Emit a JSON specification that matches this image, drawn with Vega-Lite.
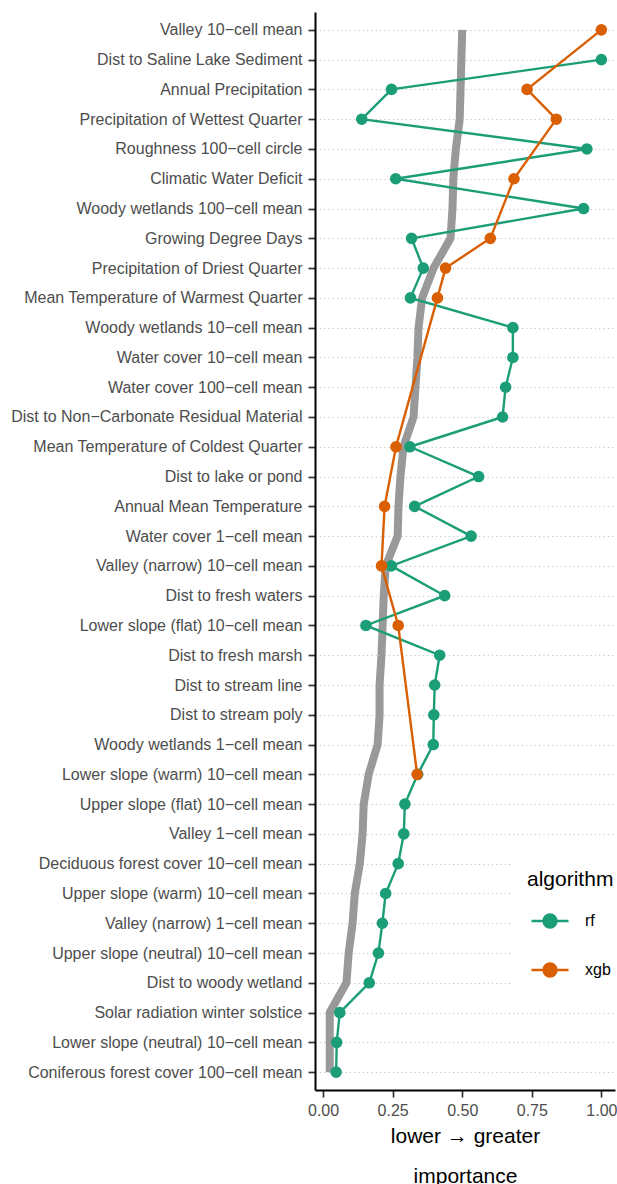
{
  "$schema": "https://vega.github.io/schema/vega-lite/v6.json",
  "width": 300,
  "height": 1078,
  "autosize": {"type": "none"},
  "padding": {"left": 315, "top": 12, "right": 2, "bottom": 94},
  "background": "white",
  "config": {
    "view": {"stroke": null},
    "font": "Liberation Sans",
    "axis": {
      "domainColor": "black",
      "domainWidth": 2,
      "tickColor": "#333333",
      "tickWidth": 1.7,
      "tickSize": 7,
      "labelColor": "#4D4D4D",
      "labelFontSize": 16,
      "labelFont": "Liberation Sans",
      "labelLimit": 0,
      "titleFont": "Liberation Sans",
      "titleColor": "black",
      "titleFontWeight": "normal",
      "titleFontSize": 21
    }
  },
  "datasets": {
    "overall": [
      {"feature": "Valley 10−cell mean", "rank": 1, "importance": 0.500},
      {"feature": "Dist to Saline Lake Sediment", "rank": 2, "importance": 0.497},
      {"feature": "Annual Precipitation", "rank": 3, "importance": 0.494},
      {"feature": "Precipitation of Wettest Quarter", "rank": 4, "importance": 0.491},
      {"feature": "Roughness 100−cell circle", "rank": 5, "importance": 0.477},
      {"feature": "Climatic Water Deficit", "rank": 6, "importance": 0.468},
      {"feature": "Woody wetlands 100−cell mean", "rank": 7, "importance": 0.465},
      {"feature": "Growing Degree Days", "rank": 8, "importance": 0.458},
      {"feature": "Precipitation of Driest Quarter", "rank": 9, "importance": 0.397},
      {"feature": "Mean Temperature of Warmest Quarter", "rank": 10, "importance": 0.356},
      {"feature": "Woody wetlands 10−cell mean", "rank": 11, "importance": 0.343},
      {"feature": "Water cover 10−cell mean", "rank": 12, "importance": 0.339},
      {"feature": "Water cover 100−cell mean", "rank": 13, "importance": 0.332},
      {"feature": "Dist to Non−Carbonate Residual Material", "rank": 14, "importance": 0.325},
      {"feature": "Mean Temperature of Coldest Quarter", "rank": 15, "importance": 0.289},
      {"feature": "Dist to lake or pond", "rank": 16, "importance": 0.278},
      {"feature": "Annual Mean Temperature", "rank": 17, "importance": 0.271},
      {"feature": "Water cover 1−cell mean", "rank": 18, "importance": 0.268},
      {"feature": "Valley (narrow) 10−cell mean", "rank": 19, "importance": 0.225},
      {"feature": "Dist to fresh waters", "rank": 20, "importance": 0.218},
      {"feature": "Lower slope (flat) 10−cell mean", "rank": 21, "importance": 0.214},
      {"feature": "Dist to fresh marsh", "rank": 22, "importance": 0.210},
      {"feature": "Dist to stream line", "rank": 23, "importance": 0.203},
      {"feature": "Dist to stream poly", "rank": 24, "importance": 0.203},
      {"feature": "Woody wetlands 1−cell mean", "rank": 25, "importance": 0.196},
      {"feature": "Lower slope (warm) 10−cell mean", "rank": 26, "importance": 0.164},
      {"feature": "Upper slope (flat) 10−cell mean", "rank": 27, "importance": 0.146},
      {"feature": "Valley 1−cell mean", "rank": 28, "importance": 0.142},
      {"feature": "Deciduous forest cover 10−cell mean", "rank": 29, "importance": 0.132},
      {"feature": "Upper slope (warm) 10−cell mean", "rank": 30, "importance": 0.114},
      {"feature": "Valley (narrow) 1−cell mean", "rank": 31, "importance": 0.106},
      {"feature": "Upper slope (neutral) 10−cell mean", "rank": 32, "importance": 0.092},
      {"feature": "Dist to woody wetland", "rank": 33, "importance": 0.084},
      {"feature": "Solar radiation winter solstice", "rank": 34, "importance": 0.024},
      {"feature": "Lower slope (neutral) 10−cell mean", "rank": 35, "importance": 0.024},
      {"feature": "Coniferous forest cover 100−cell mean", "rank": 36, "importance": 0.024}
    ],
    "imp": [
      {"feature": "Dist to Saline Lake Sediment", "rank": 2, "algorithm": "rf", "importance": 1.000},
      {"feature": "Annual Precipitation", "rank": 3, "algorithm": "rf", "importance": 0.246},
      {"feature": "Precipitation of Wettest Quarter", "rank": 4, "algorithm": "rf", "importance": 0.139},
      {"feature": "Roughness 100−cell circle", "rank": 5, "algorithm": "rf", "importance": 0.948},
      {"feature": "Climatic Water Deficit", "rank": 6, "algorithm": "rf", "importance": 0.261},
      {"feature": "Woody wetlands 100−cell mean", "rank": 7, "algorithm": "rf", "importance": 0.936},
      {"feature": "Growing Degree Days", "rank": 8, "algorithm": "rf", "importance": 0.318},
      {"feature": "Precipitation of Driest Quarter", "rank": 9, "algorithm": "rf", "importance": 0.360},
      {"feature": "Mean Temperature of Warmest Quarter", "rank": 10, "algorithm": "rf", "importance": 0.314},
      {"feature": "Woody wetlands 10−cell mean", "rank": 11, "algorithm": "rf", "importance": 0.682},
      {"feature": "Water cover 10−cell mean", "rank": 12, "algorithm": "rf", "importance": 0.682},
      {"feature": "Water cover 100−cell mean", "rank": 13, "algorithm": "rf", "importance": 0.656},
      {"feature": "Dist to Non−Carbonate Residual Material", "rank": 14, "algorithm": "rf", "importance": 0.645},
      {"feature": "Mean Temperature of Coldest Quarter", "rank": 15, "algorithm": "rf", "importance": 0.312},
      {"feature": "Dist to lake or pond", "rank": 16, "algorithm": "rf", "importance": 0.559},
      {"feature": "Annual Mean Temperature", "rank": 17, "algorithm": "rf", "importance": 0.329},
      {"feature": "Water cover 1−cell mean", "rank": 18, "algorithm": "rf", "importance": 0.532},
      {"feature": "Valley (narrow) 10−cell mean", "rank": 19, "algorithm": "rf", "importance": 0.245},
      {"feature": "Dist to fresh waters", "rank": 20, "algorithm": "rf", "importance": 0.437},
      {"feature": "Lower slope (flat) 10−cell mean", "rank": 21, "algorithm": "rf", "importance": 0.154},
      {"feature": "Dist to fresh marsh", "rank": 22, "algorithm": "rf", "importance": 0.419},
      {"feature": "Dist to stream line", "rank": 23, "algorithm": "rf", "importance": 0.401},
      {"feature": "Dist to stream poly", "rank": 24, "algorithm": "rf", "importance": 0.398},
      {"feature": "Woody wetlands 1−cell mean", "rank": 25, "algorithm": "rf", "importance": 0.396},
      {"feature": "Lower slope (warm) 10−cell mean", "rank": 26, "algorithm": "rf", "importance": 0.340},
      {"feature": "Upper slope (flat) 10−cell mean", "rank": 27, "algorithm": "rf", "importance": 0.294},
      {"feature": "Valley 1−cell mean", "rank": 28, "algorithm": "rf", "importance": 0.290},
      {"feature": "Deciduous forest cover 10−cell mean", "rank": 29, "algorithm": "rf", "importance": 0.270},
      {"feature": "Upper slope (warm) 10−cell mean", "rank": 30, "algorithm": "rf", "importance": 0.225},
      {"feature": "Valley (narrow) 1−cell mean", "rank": 31, "algorithm": "rf", "importance": 0.213},
      {"feature": "Upper slope (neutral) 10−cell mean", "rank": 32, "algorithm": "rf", "importance": 0.199},
      {"feature": "Dist to woody wetland", "rank": 33, "algorithm": "rf", "importance": 0.166},
      {"feature": "Solar radiation winter solstice", "rank": 34, "algorithm": "rf", "importance": 0.060},
      {"feature": "Lower slope (neutral) 10−cell mean", "rank": 35, "algorithm": "rf", "importance": 0.049},
      {"feature": "Coniferous forest cover 100−cell mean", "rank": 36, "algorithm": "rf", "importance": 0.047},
      {"feature": "Valley 10−cell mean", "rank": 1, "algorithm": "xgb", "importance": 1.000},
      {"feature": "Annual Precipitation", "rank": 3, "algorithm": "xgb", "importance": 0.733},
      {"feature": "Precipitation of Wettest Quarter", "rank": 4, "algorithm": "xgb", "importance": 0.838},
      {"feature": "Climatic Water Deficit", "rank": 6, "algorithm": "xgb", "importance": 0.686},
      {"feature": "Growing Degree Days", "rank": 8, "algorithm": "xgb", "importance": 0.601},
      {"feature": "Precipitation of Driest Quarter", "rank": 9, "algorithm": "xgb", "importance": 0.440},
      {"feature": "Mean Temperature of Warmest Quarter", "rank": 10, "algorithm": "xgb", "importance": 0.411},
      {"feature": "Mean Temperature of Coldest Quarter", "rank": 15, "algorithm": "xgb", "importance": 0.262},
      {"feature": "Annual Mean Temperature", "rank": 17, "algorithm": "xgb", "importance": 0.221},
      {"feature": "Valley (narrow) 10−cell mean", "rank": 19, "algorithm": "xgb", "importance": 0.210},
      {"feature": "Lower slope (flat) 10−cell mean", "rank": 21, "algorithm": "xgb", "importance": 0.270},
      {"feature": "Lower slope (warm) 10−cell mean", "rank": 26, "algorithm": "xgb", "importance": 0.338}
    ]
  },
  "encoding": {
    "x": {
      "field": "importance",
      "type": "quantitative",
      "scale": {"domain": [-0.029, 1.049], "nice": false, "zero": false},
      "axis": {
        "values": [0, 0.25, 0.5, 0.75, 1],
        "format": ".2f",
        "grid": false,
        "labelPadding": 5,
        "title": ["lower → greater", "importance"],
        "titleLineHeight": 40,
        "titlePadding": 7
      }
    },
    "y": {
      "field": "feature",
      "type": "nominal",
      "scale": {
        "type": "point",
        "padding": 0.6,
        "domain": [
          "Valley 10−cell mean",
          "Dist to Saline Lake Sediment",
          "Annual Precipitation",
          "Precipitation of Wettest Quarter",
          "Roughness 100−cell circle",
          "Climatic Water Deficit",
          "Woody wetlands 100−cell mean",
          "Growing Degree Days",
          "Precipitation of Driest Quarter",
          "Mean Temperature of Warmest Quarter",
          "Woody wetlands 10−cell mean",
          "Water cover 10−cell mean",
          "Water cover 100−cell mean",
          "Dist to Non−Carbonate Residual Material",
          "Mean Temperature of Coldest Quarter",
          "Dist to lake or pond",
          "Annual Mean Temperature",
          "Water cover 1−cell mean",
          "Valley (narrow) 10−cell mean",
          "Dist to fresh waters",
          "Lower slope (flat) 10−cell mean",
          "Dist to fresh marsh",
          "Dist to stream line",
          "Dist to stream poly",
          "Woody wetlands 1−cell mean",
          "Lower slope (warm) 10−cell mean",
          "Upper slope (flat) 10−cell mean",
          "Valley 1−cell mean",
          "Deciduous forest cover 10−cell mean",
          "Upper slope (warm) 10−cell mean",
          "Valley (narrow) 1−cell mean",
          "Upper slope (neutral) 10−cell mean",
          "Dist to woody wetland",
          "Solar radiation winter solstice",
          "Lower slope (neutral) 10−cell mean",
          "Coniferous forest cover 100−cell mean"
        ]
      },
      "axis": {
        "title": null,
        "labelPadding": 6,
        "grid": true,
        "gridColor": "#c4c4c4",
        "gridWidth": 1,
        "gridDash": [1.2, 3.1]
      }
    },
    "order": {"field": "rank", "type": "quantitative"}
  },
  "layer": [
    {
      "data": {"name": "overall"},
      "mark": {"type": "line", "color": "#999999", "strokeWidth": 8, "strokeCap": "butt", "strokeJoin": "round"}
    },
    {
      "data": {"name": "imp"},
      "mark": {"type": "line", "strokeWidth": 2.4},
      "encoding": {
        "color": {
          "field": "algorithm",
          "type": "nominal",
          "scale": {"domain": ["rf", "xgb"], "range": ["#1B9E77", "#D95F02"]},
          "legend": {
            "orient": "none",
            "legendX": 197,
            "legendY": 842,
            "fillColor": "white",
            "padding": 15,
            "title": "algorithm",
            "titleFontSize": 21,
            "titleFontWeight": "normal",
            "titleColor": "black",
            "titlePadding": 11,
            "labelFontSize": 16,
            "labelColor": "black",
            "symbolType": "M-1,0L1,0M-0.35,0A0.35,0.35,0,1,1,0.35,0A0.35,0.35,0,1,1,-0.35,0Z",
            "symbolSize": 1369,
            "symbolStrokeWidth": 2.4,
            "labelOffset": 15,
            "rowPadding": 17,
            "symbolOffset": 3,
            "encode": {
              "symbols": {
                "update": {
                  "fill": {"scale": "color", "field": "value"},
                  "stroke": {"scale": "color", "field": "value"},
                  "opacity": {"value": 1}
                }
              }
            }
          }
        }
      }
    },
    {
      "data": {"name": "imp"},
      "mark": {"type": "circle", "size": 135, "opacity": 1},
      "encoding": {
        "color": {
          "field": "algorithm",
          "type": "nominal",
          "scale": {"domain": ["rf", "xgb"], "range": ["#1B9E77", "#D95F02"]},
          "legend": {
            "orient": "none",
            "legendX": 197,
            "legendY": 842,
            "fillColor": "white",
            "padding": 15,
            "title": "algorithm",
            "titleFontSize": 21,
            "titleFontWeight": "normal",
            "titleColor": "black",
            "titlePadding": 11,
            "labelFontSize": 16,
            "labelColor": "black",
            "symbolType": "M-1,0L1,0M-0.35,0A0.35,0.35,0,1,1,0.35,0A0.35,0.35,0,1,1,-0.35,0Z",
            "symbolSize": 1369,
            "symbolStrokeWidth": 2.4,
            "labelOffset": 15,
            "rowPadding": 17,
            "symbolOffset": 3,
            "encode": {
              "symbols": {
                "update": {
                  "fill": {"scale": "color", "field": "value"},
                  "stroke": {"scale": "color", "field": "value"},
                  "opacity": {"value": 1}
                }
              }
            }
          }
        }
      }
    }
  ]
}
